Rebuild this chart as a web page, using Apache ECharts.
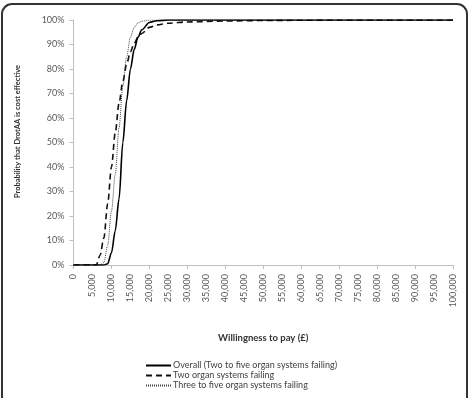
<!DOCTYPE html>
<html>
<head>
<meta charset="utf-8">
<script src="https://cdn.jsdelivr.net/npm/echarts@6/dist/echarts.min.js"></script>
<style>
  html, body { margin: 0; padding: 0; background: #fff; }
  #chart { width: 469px; height: 398px; }
</style>
</head>
<body>
<div id="chart"></div>
<script>
// willingness to pay (GBP) and probability cost effective (%)
const wtp = [0, 5000, 6000, 7000, 8000, 9000, 10000, 11000, 12000, 13000, 14000, 15000, 16000, 17000, 18000, 20000, 22000, 25000, 30000, 40000, 50000, 60000, 70000, 80000, 90000, 100000]
const overall = [0, 0, 0, 0, 0, 0.5, 5, 14, 27, 50, 67, 80, 88, 93, 96, 99, 99.7, 100, 100, 100, 100, 100, 100, 100, 100, 100]
const twoOrgan = [0, 0, 0, 4, 11, 25, 40, 54, 66, 75, 82, 87, 90.5, 93, 94.5, 97, 98, 98.7, 99.2, 99.6, 99.8, 99.9, 100, 100, 100, 100]
const threeToFive = [0, 0, 0, 0, 1, 8, 22, 37, 56, 73, 85, 93, 97, 98.8, 99.5, 100, 100, 100, 100, 100, 100, 100, 100, 100, 100, 100]
const seriesNames = ['Overall (Two to five organ systems failing)', 'Two organ systems failing', 'Three to five organ systems failing']

const font = 'Lato, sans-serif'
const pairs = ys => wtp.map((x, i) => [x, ys[i]])

const chart = echarts.init(document.getElementById('chart'))
chart.setOption({
  animation: false,
  grid: { left: 73.5, right: 16, top: 20, bottom: 133, containLabel: false },
  graphic: [{
    type: 'rect',
    shape: { x: 2, y: 4, width: 465, height: 430, r: 10 },
    style: { fill: 'none', stroke: '#333', lineWidth: 2 },
    silent: true
  }],
  legend: {
    orient: 'vertical',
    left: 145,
    top: 361,
    padding: 0,
    itemWidth: 25,
    itemHeight: 11,
    itemGap: 1,
    itemStyle: { opacity: 0 },
    textStyle: { fontFamily: font, fontSize: 9, color: '#404040', padding: [0, 0, 0, -3] },
    data: seriesNames
  },
  xAxis: [
    {
      type: 'value',
      min: 0,
      max: 100000,
      interval: 5000,
      name: 'Willingness to pay (£)',
      nameLocation: 'middle',
      nameGap: 68,
      nameTextStyle: { fontFamily: font, fontSize: 9.5, fontWeight: 'bold', color: '#333' },
      axisLine: { lineStyle: { color: '#bfbfbf' } },
      axisTick: { show: false },
      splitLine: { show: false },
      axisLabel: {
        rotate: 90,
        margin: 9,
        fontFamily: font,
        fontSize: 9,
        color: '#595959',
        formatter: v => v.toLocaleString('en-GB')
      }
    },
    {
      type: 'value',
      min: 0,
      max: 100000,
      interval: 10000,
      position: 'bottom',
      axisLine: { show: false },
      axisTick: { show: true, length: 4, lineStyle: { color: '#bfbfbf' } },
      axisLabel: { show: false },
      splitLine: { show: false }
    }
  ],
  yAxis: {
    type: 'value',
    min: 0,
    max: 100,
    interval: 10,
    name: 'Probability that DrotAA is cost effective',
    nameLocation: 'middle',
    nameGap: 52,
    nameTextStyle: { fontFamily: font, fontSize: 7.5, fontWeight: 'bold', color: '#333', padding: [0, 0, 0, 22] },
    axisLine: { show: true, lineStyle: { color: '#bfbfbf' } },
    axisTick: { show: true, length: 4, lineStyle: { color: '#bfbfbf' } },
    splitLine: { show: false },
    axisLabel: { margin: 9, fontFamily: font, fontSize: 9, color: '#595959', formatter: '{value}%' }
  },
  series: [
    {
      name: seriesNames[0],
      type: 'line',
      data: pairs(overall),
      symbol: 'none',
      smooth: 0.3,
      smoothMonotone: 'x',
      lineStyle: { color: '#000', width: 1.6, type: 'solid' },
      itemStyle: { color: '#000' },
      z: 3
    },
    {
      name: seriesNames[1],
      type: 'line',
      data: pairs(twoOrgan),
      symbol: 'none',
      smooth: 0.3,
      smoothMonotone: 'x',
      lineStyle: { color: '#111', width: 1.6, type: [6, 4] },
      itemStyle: { color: '#111' },
      z: 2
    },
    {
      name: seriesNames[2],
      type: 'line',
      data: pairs(threeToFive),
      symbol: 'none',
      smooth: 0.3,
      smoothMonotone: 'x',
      lineStyle: { color: '#444', width: 1, type: [1, 1] },
      itemStyle: { color: '#444' },
      z: 1
    }
  ]
})
</script>
</body>
</html>
